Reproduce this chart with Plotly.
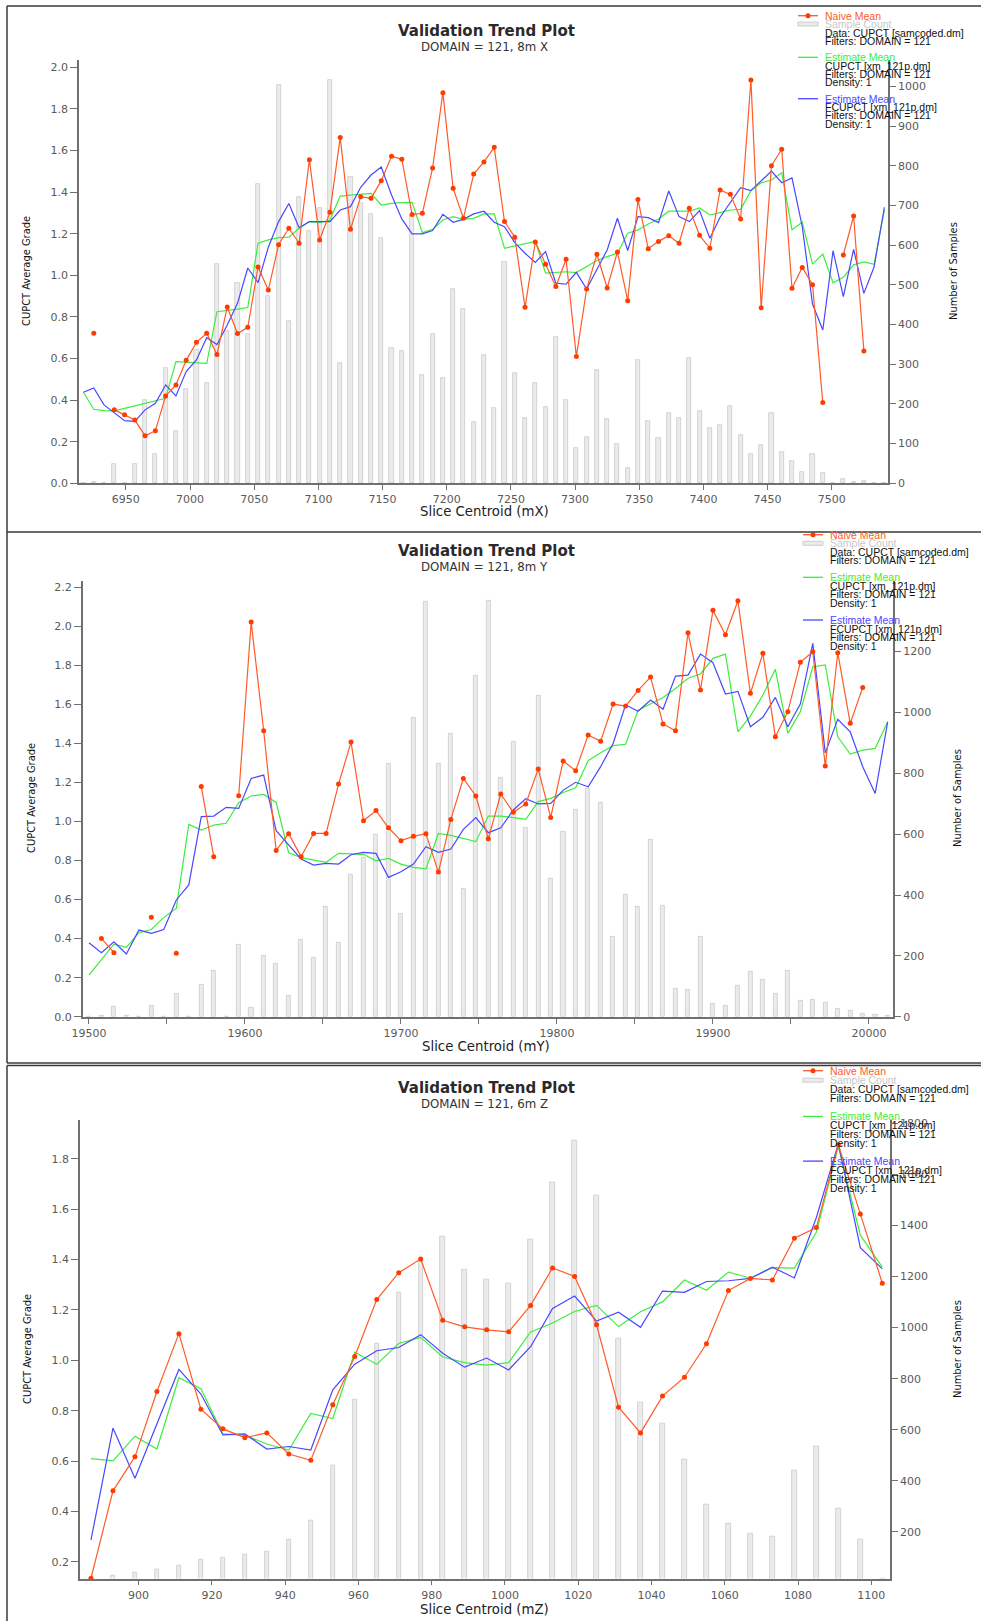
import plotly.graph_objects as go

# ---------------- DATA ----------------
p1_x = [6917, 6925, 6933, 6941, 6949, 6957, 6965, 6973, 6981, 6989, 6997, 7005, 7013, 7021, 7029, 7037,
        7045, 7053, 7061, 7069, 7077, 7085, 7093, 7101, 7109, 7117, 7125, 7133, 7141, 7149, 7157, 7165,
        7173, 7181, 7189, 7197, 7205, 7213, 7221, 7229, 7237, 7245, 7253, 7261, 7269, 7277, 7285, 7293,
        7301, 7309, 7317, 7325, 7333, 7341, 7349, 7357, 7365, 7373, 7381, 7389, 7397, 7405, 7413, 7421,
        7429, 7437, 7445, 7453, 7461, 7469, 7477, 7485, 7493, 7501, 7509, 7517, 7525, 7533, 7541]
p1_naive = [None, 0.721, None, 0.353, 0.33, 0.304, 0.228, 0.253, 0.42, 0.473, 0.591, 0.678, 0.721, 0.619, 0.848, 0.72,
            0.75, 1.04, 0.929, 1.147, 1.226, 1.154, 1.556, 1.17, 1.303, 1.663, 1.221, 1.378, 1.370, 1.455, 1.572, 1.558,
            1.292, 1.298, 1.516, 1.878, 1.418, 1.274, 1.487, 1.545, 1.615, 1.258, 1.183, 0.846, 1.160, 1.053, 0.946, 1.077,
            0.609, 0.934, 1.101, 0.939, 1.112, 0.878, 1.364, 1.128, 1.163, 1.190, 1.154, 1.322, 1.192, 1.130, 1.410, 1.389,
            1.271, 1.939, 0.844, 1.527, 1.606, 0.938, 1.038, 0.955, 0.388, None, 1.098, 1.285, 0.636, None, None]
p1_est = [0.4375, 0.356, 0.349, 0.348, 0.36, 0.372, 0.385, 0.397, 0.409, 0.585, 0.583, 0.580, 0.577, 0.825, 0.830, 0.837,
          0.845, 1.154, 1.170, 1.181, 1.183, 1.226, 1.258, 1.253, 1.266, 1.381, 1.385, 1.388, 1.394, 1.338, 1.346, 1.349,
          1.351, 1.205, 1.221, 1.266, 1.282, 1.269, 1.274, 1.295, 1.295, 1.130, 1.141, 1.151, 1.163, 1.010, 1.014, 1.017,
          1.013, 1.040, 1.071, 1.090, 1.106, 1.202, 1.218, 1.247, 1.271, 1.308, 1.308, 1.308, 1.324, 1.290, 1.301, 1.314,
          1.317, 1.407, 1.445, 1.458, 1.493, 1.218, 1.256, 1.054, 1.102, 0.964, 0.990, 1.050, 1.064, 1.053, 1.317]
p1_fest = [0.4375, 0.458, 0.377, 0.337, 0.301, 0.298, 0.353, 0.385, 0.473, 0.42, 0.537, 0.593, 0.700, 0.667, 0.761, 0.865,
           1.035, 0.965, 1.135, 1.258, 1.345, 1.229, 1.258, 1.258, 1.258, 1.314, 1.330, 1.423, 1.482, 1.521, 1.386, 1.271,
           1.199, 1.199, 1.215, 1.293, 1.255, 1.269, 1.295, 1.308, 1.255, 1.234, 1.157, 1.106, 1.062, 1.114, 0.962, 0.957,
           1.014, 0.934, 1.026, 1.122, 1.274, 1.119, 1.282, 1.277, 1.253, 1.405, 1.282, 1.258, 1.311, 1.178, 1.279, 1.352,
           1.421, 1.407, 1.455, 1.501, 1.445, 1.468, 1.234, 0.862, 0.737, 1.118, 0.897, 1.125, 0.913, 1.041, 1.327]
p1_count = [0, 3, 2, 49, 0, 49, 209, 74, 290, 133, 238, 337, 253, 553, 385, 506,
            377, 754, 472, 1004, 408, 722, 636, 693, 1017, 303, 773, 706, 679, 619, 342, 333,
            676, 272, 377, 266, 491, 440, 154, 323, 190, 557, 279, 165, 253, 192, 369, 211,
            89, 116, 286, 163, 98, 39, 312, 157, 114, 178, 165, 316, 182, 140, 146, 195,
            121, 74, 97, 178, 78, 56, 29, 74, 25, 2, 10, 4, 5, 2, 1]

p2_x = [19500, 19508, 19516, 19524, 19532, 19540, 19548, 19556, 19564, 19572, 19580, 19588, 19596, 19604, 19612, 19620,
        19628, 19636, 19644, 19652, 19660, 19668, 19676, 19684, 19692, 19700, 19708, 19716, 19724, 19732, 19740, 19748,
        19756, 19764, 19772, 19780, 19788, 19796, 19804, 19812, 19820, 19828, 19836, 19844, 19852, 19860, 19868, 19876,
        19884, 19892, 19900, 19908, 19916, 19924, 19932, 19940, 19948, 19956, 19964, 19972, 19980, 19988, 19996, 20004,
        20012]
p2_naive = [None, 0.401, 0.328, None, None, 0.509, None, 0.325, None, 1.180, 0.820, None, 1.132, 2.022, 1.465, 0.852,
            0.938, 0.820, 0.939, 0.939, 1.192, 1.407, 1.004, 1.056, 0.968, 0.902, 0.924, 0.938, 0.741, 1.011, 1.221, 1.131,
            0.912, 1.141, 1.047, 1.090, 1.269, 1.021, 1.310, 1.260, 1.443, 1.412, 1.602, 1.592, 1.672, 1.740, 1.500, 1.465,
            1.967, 1.674, 2.082, 1.957, 2.131, 1.657, 1.862, 1.434, 1.563, 1.816, 1.870, 1.284, 1.865, 1.503, 1.687, None,
            None]
p2_est = [0.213, 0.290, 0.372, 0.355, 0.430, 0.447, 0.509, 0.555, 0.985, 0.956, 0.982, 0.991, 1.096, 1.131, 1.139, 1.098,
          0.840, 0.815, 0.803, 0.791, 0.837, 0.835, 0.832, 0.799, 0.811, 0.782, 0.765, 0.757, 0.939, 0.929, 0.914, 0.897,
          1.028, 1.028, 1.020, 1.011, 1.102, 1.119, 1.149, 1.173, 1.312, 1.353, 1.389, 1.396, 1.570, 1.605, 1.636, 1.682,
          1.734, 1.756, 1.836, 1.858, 1.460, 1.540, 1.648, 1.780, 1.452, 1.563, 1.793, 1.802, 1.434, 1.346, 1.366, 1.375,
          1.511]
p2_fest = [0.379, 0.328, 0.384, 0.321, 0.444, 0.427, 0.447, 0.598, 0.675, 1.025, 1.028, 1.073, 1.067, 1.221, 1.238, 0.953,
           0.880, 0.808, 0.777, 0.786, 0.782, 0.830, 0.842, 0.837, 0.714, 0.743, 0.782, 0.871, 0.842, 0.859, 0.960, 1.020,
           0.943, 0.968, 1.059, 1.117, 1.090, 1.093, 1.161, 1.201, 1.178, 1.281, 1.400, 1.598, 1.565, 1.622, 1.575, 1.745,
           1.750, 1.858, 1.814, 1.653, 1.667, 1.486, 1.534, 1.636, 1.486, 1.602, 1.913, 1.352, 1.524, 1.459, 1.281, 1.144,
           1.511]
p2_count = [0, 2, 33, 2, 0, 35, 0, 75, 0, 106, 151, 0, 238, 31, 200, 173,
            69, 254, 195, 362, 243, 467, 523, 597, 831, 340, 984, 1364, 833, 929, 420, 1120,
            1368, 786, 904, 621, 1054, 455, 607, 682, 751, 705, 263, 400, 363, 581, 364, 92,
            90, 263, 44, 36, 101, 148, 121, 75, 151, 52, 55, 47, 25, 19, 9, 5,
            3]

p3_x = [887, 893, 899, 905, 911, 917, 923, 929, 935, 941, 947, 953, 959, 965, 971, 977, 983, 989, 995,
        1001, 1007, 1013, 1019, 1025, 1031, 1037, 1043, 1049, 1055, 1061, 1067, 1073, 1079, 1085, 1091, 1097, 1103]
p3_naive = [0.135, 0.482, 0.617, 0.876, 1.106, 0.806, 0.728, 0.693, 0.712, 0.628, 0.603, 0.824, 1.015, 1.241, 1.348,
            1.402, 1.159, 1.133, 1.121, 1.113, 1.218, 1.367, 1.333, 1.141, 0.814, 0.712, 0.858, 0.933, 1.066, 1.277,
            1.325, 1.319, 1.485, 1.527, 1.856, 1.581, 1.306]
p3_est = [0.610, 0.601, 0.699, 0.648, 0.931, 0.887, 0.708, 0.702, 0.668, 0.644, 0.789, 0.769, 1.033, 0.984, 1.067,
          1.091, 1.013, 0.991, 0.981, 0.991, 1.113, 1.148, 1.194, 1.218, 1.134, 1.193, 1.232, 1.319, 1.278, 1.350,
          1.327, 1.368, 1.366, 1.508, 1.849, 1.497, 1.370]
p3_fest = [0.287, 0.731, 0.532, 0.749, 0.964, 0.866, 0.704, 0.708, 0.648, 0.658, 0.644, 0.883, 0.985, 1.038, 1.051,
           1.102, 1.028, 0.973, 1.009, 0.962, 1.054, 1.206, 1.255, 1.156, 1.191, 1.131, 1.275, 1.270, 1.313, 1.316,
           1.325, 1.370, 1.327, 1.567, 1.860, 1.447, 1.363]
p3_count = [0, 29, 42, 55, 70, 91, 102, 112, 123, 172, 245, 460, 720, 939, 1139, 1268, 1358, 1226, 1188,
            1172, 1346, 1569, 1731, 1518, 959, 706, 626, 485, 307, 233, 193, 182, 442, 535, 293, 171, 18]

titles = ["Validation Trend Plot", "Validation Trend Plot", "Validation Trend Plot"]
subtitles = ["DOMAIN = 121, 8m X", "DOMAIN = 121, 8m Y", "DOMAIN = 121, 6m Z"]
xtitles = ["Slice Centroid (mX)", "Slice Centroid (mY)", "Slice Centroid (mZ)"]
ytitle_left = "CUPCT Average Grade"
ytitle_right = "Number of Samples"
legend_lines = ["Naive Mean", "Sample Count", "Data: CUPCT [samcoded.dm]", "Filters: DOMAIN = 121",
                "Estimate Mean", "CUPCT [xm_121p.dm]", "Filters: DOMAIN = 121", "Density: 1",
                "Estimate Mean", "FCUPCT [xm_121p.dm]", "Filters: DOMAIN = 121", "Density: 1"]

p1_xticks = [6950, 7000, 7050, 7100, 7150, 7200, 7250, 7300, 7350, 7400, 7450, 7500]
p2_xticks = [19500, 19550, 19600, 19650, 19700, 19750, 19800, 19850, 19900, 19950, 20000]
p2_xticklabels = ["19500", "", "19600", "", "19700", "", "19800", "", "19900", "", "20000"]
p3_xticks = [900, 920, 940, 960, 980, 1000, 1020, 1040, 1060, 1080, 1100]

# ---------------- STYLE ----------------
W, H = 981, 1621
C_NAIVE = "#ff5a28"
C_NAIVE_M = "#ff3c00"
C_EST = "#3cee3c"
C_FEST = "#4848ff"
C_BAR = "#ebebeb"
C_BAR_L = "#c4c4c4"
AX = "#707070"
TICKF = dict(family="DejaVu Sans", size=11, color="#5a5a5a")
NARROW = "DejaVu Sans Condensed, Liberation Sans Narrow, Roboto, sans-serif"


def px(x):
    return x / W


def py(y):
    return 1 - y / H


fig = go.Figure()

panels = [
    dict(x=p1_x, naive=p1_naive, est=p1_est, fest=p1_fest, count=p1_count, bw=3.2,
         xa="x", yb="y", yl="y2", box=(79, 888, 60, 483.3)),
    dict(x=p2_x, naive=p2_naive, est=p2_est, fest=p2_fest, count=p2_count, bw=2.6,
         xa="x2", yb="y3", yl="y4", box=(82.7, 893.3, 580.7, 1016.7)),
    dict(x=p3_x, naive=p3_naive, est=p3_est, fest=p3_fest, count=p3_count, bw=1.2,
         xa="x3", yb="y5", yl="y6", box=(80, 890, 1119.5, 1578.5)),
]

for p in panels:
    fig.add_trace(go.Bar(x=p["x"], y=p["count"], width=p["bw"], xaxis=p["xa"], yaxis=p["yb"],
                         marker=dict(color=C_BAR, line=dict(color=C_BAR_L, width=0.7)),
                         showlegend=False, hoverinfo="skip"))
    fig.add_trace(go.Scatter(x=p["x"], y=p["est"], xaxis=p["xa"], yaxis=p["yl"], mode="lines",
                             line=dict(color=C_EST, width=1.2), showlegend=False, cliponaxis=True))
    fig.add_trace(go.Scatter(x=p["x"], y=p["fest"], xaxis=p["xa"], yaxis=p["yl"], mode="lines",
                             line=dict(color=C_FEST, width=1.2), showlegend=False, cliponaxis=True))
    fig.add_trace(go.Scatter(x=p["x"], y=p["naive"], xaxis=p["xa"], yaxis=p["yl"], mode="lines+markers",
                             line=dict(color=C_NAIVE, width=1.2),
                             marker=dict(color=C_NAIVE_M, size=5), showlegend=False, cliponaxis=False))


def xax(box, rng, tickvals, ticktext=None):
    d = dict(domain=[px(box[0]), px(box[1])], range=rng, showline=True, linecolor=AX, linewidth=1.6,
             ticks="outside", ticklen=5, tickcolor=AX, tickwidth=1, tickvals=tickvals,
             tickfont=TICKF, showgrid=False, zeroline=False, automargin=False)
    if ticktext is not None:
        d["ticktext"] = ticktext
    return d


def ybase(box, rng, tickvals, anchor):
    return dict(domain=[py(box[3]), py(box[2])], range=rng, side="right", anchor=anchor, showline=True,
                linecolor=AX, linewidth=1.6, ticks="outside", ticklen=6, tickcolor=AX, tickvals=tickvals,
                tickfont=TICKF, showgrid=False, zeroline=False, automargin=False)


def yleft(rng, tickvals, over, anchor):
    return dict(range=rng, side="left", overlaying=over, anchor=anchor, showline=True, linecolor=AX,
                linewidth=1.6, ticks="outside", ticklen=7, tickcolor=AX, tickvals=tickvals,
                ticktext=["%.1f" % v for v in tickvals], tickfont=TICKF, showgrid=False, zeroline=False,
                automargin=False)


b1, b2, b3 = panels[0]["box"], panels[1]["box"], panels[2]["box"]
fig.update_layout(
    xaxis=xax(b1, [6913.5, 7543.8], p1_xticks) | dict(anchor="y"),
    yaxis=ybase(b1, [0, 1067], list(range(0, 1001, 100)), "x"),
    yaxis2=yleft([0, 2.035], [0.0, 0.2, 0.4, 0.6, 0.8, 1.0, 1.2, 1.4, 1.6, 1.8, 2.0], "y", "x"),
    xaxis2=xax(b2, [19496, 20015.6], p2_xticks, p2_xticklabels) | dict(anchor="y3"),
    yaxis3=ybase(b2, [0, 1433], list(range(0, 1201, 200)), "x2"),
    yaxis4=yleft([0, 2.234], [0.0, 0.2, 0.4, 0.6, 0.8, 1.0, 1.2, 1.4, 1.6, 1.8, 2.0, 2.2], "y3", "x2"),
    xaxis3=xax(b3, [884.0, 1105.1], p3_xticks) | dict(anchor="y5"),
    yaxis5=ybase(b3, [18, 1814], list(range(200, 1801, 200)), "x3"),
    yaxis6=yleft([0.134, 1.956], [0.2, 0.4, 0.6, 0.8, 1.0, 1.2, 1.4, 1.6, 1.8], "y5", "x3"),
)

ann = []
shapes = []


def note(x, y, text, size, color, family="DejaVu Sans", xanchor="center", angle=0, weight="normal"):
    ann.append(dict(x=px(x), y=py(y), xref="paper", yref="paper", text=text, showarrow=False,
                    xanchor=xanchor, yanchor="middle", textangle=angle,
                    font=dict(family=family, size=size, color=color, weight=weight)))


# titles & axis titles
title_y = [(31, 47.5), (551, 567.5), (1087.5, 1104)]
xtitle_pos = [(484, 511.5), (486, 1046), (484, 1609)]
ytitle_pos = [((26, 271), (953, 271)), ((31, 798), (957, 798)), ((27, 1349), (957, 1349))]
for i in range(3):
    note(486, title_y[i][0], titles[i], 15, "#2a2a2a", weight="bold")
    note(484, title_y[i][1], subtitles[i], 11.8, "#333333")
    note(xtitle_pos[i][0], xtitle_pos[i][1], xtitles[i], 13.3, "#222222")
    (lx, ly), (rx, ry) = ytitle_pos[i]
    note(lx, ly, ytitle_left, 11, "#111111", family=NARROW, angle=-90)
    note(rx, ry, ytitle_right, 11, "#111111", family=NARROW, angle=-90)

# legends
legend_rows = [
    [15.7, 24, 32.7, 40.7, 57.3, 66, 74, 82.3, 98.7, 107, 115.3, 124],
    [534.7, 543.3, 551.7, 560, 577.3, 586, 594.3, 603, 620, 628.7, 637.3, 646],
    [1070.7, 1080.2, 1089.1, 1098, 1116.4, 1125.3, 1134.1, 1143, 1161.1, 1170.3, 1179.2, 1188.4],
]
legend_x = [(798, 818, 822.5), (803, 823, 828), (803, 823, 828)]
line_colors = {0: C_NAIVE, 1: "#c8c8c8", 4: C_EST, 8: C_FEST}
for i in range(3):
    s0, s1, tx = legend_x[i]
    rows = legend_rows[i]
    for j, txt in enumerate(legend_lines):
        col = line_colors.get(j, "#111111")
        note(tx, rows[j], txt, 10.5, col, family="Liberation Sans", xanchor="left")
    for j in (0, 4, 8):
        shapes.append(dict(type="line", xref="paper", yref="paper", x0=px(s0), x1=px(s1),
                           y0=py(rows[j]), y1=py(rows[j]), line=dict(color=line_colors[j], width=1.3)))
    cx = (s0 + s1) / 2
    shapes.append(dict(type="circle", xref="paper", yref="paper", x0=px(cx - 2.5), x1=px(cx + 2.5),
                       y0=py(rows[0] + 2.5), y1=py(rows[0] - 2.5), fillcolor=C_NAIVE_M,
                       line=dict(color=C_NAIVE_M, width=0)))
    shapes.append(dict(type="rect", xref="paper", yref="paper", x0=px(s0), x1=px(s1),
                       y0=py(rows[1] + 2), y1=py(rows[1] - 2), fillcolor=C_BAR,
                       line=dict(color=C_BAR_L, width=0.8)))

# panel borders
BC = "#3a3a3a"
border_lines = [
    (7, 6, 981, 6), (7, 6, 7, 532), (7, 532, 981, 532),
    (7, 532, 7, 1063), (7, 1063, 981, 1063),
    (7, 1065.5, 981, 1065.5), (7, 1065.5, 7, 1621),
]
for (x0, y0, x1, y1) in border_lines:
    shapes.append(dict(type="line", xref="paper", yref="paper", x0=px(x0), x1=px(x1), y0=py(y0), y1=py(y1),
                       line=dict(color=BC, width=1.5)))

fig.update_layout(
    width=W, height=H, margin=dict(l=0, r=0, t=0, b=0, pad=0, autoexpand=False),
    paper_bgcolor="white", plot_bgcolor="white",
    annotations=ann, shapes=shapes, showlegend=False, bargap=0,
)

fig.write_html("out.html", config={"displayModeBar": False},
               post_script="document.body.style.margin='0';document.body.style.overflow='hidden';")
